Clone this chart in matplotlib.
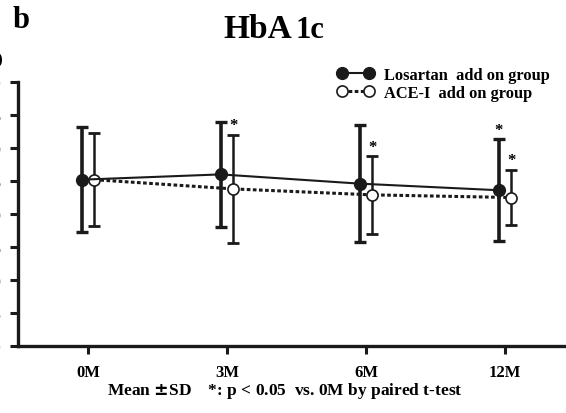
import matplotlib
matplotlib.use("Agg")
import matplotlib.pyplot as plt
from matplotlib.lines import Line2D
import numpy as np

plt.rcParams['font.family'] = ['Liberation Serif', 'DejaVu Serif']
plt.rcParams['font.weight'] = 'bold'

categories = ["0M", "3M", "6M", "12M"]
los_mean = [6.52, 6.60, 6.46, 6.36]
los_sd = [0.80, 0.80, 0.89, 0.77]
ace_mean = [6.52, 6.38, 6.29, 6.25]
ace_sd = [0.70, 0.82, 0.59, 0.42]
los_sig = [False, False, False, True]
ace_sig = [False, True, True, True]
yticks = [4.0, 4.5, 5.0, 5.5, 6.0, 6.5, 7.0, 7.5, 8.0]
ytick_labels = ["4.0", "4.5", "5.0", "5.5", "6.0", "6.5", "7.0", "7.5", "8.0"]

fig = plt.figure(figsize=(5.66, 4.14), dpi=100)
ax = fig.add_axes([18/566, 1-347/414, 1-18/566, (347-83)/414])

x = np.arange(len(categories))
off = 0.045
ink = '#1a1a1a'

ax.errorbar(x - off, los_mean, yerr=los_sd, fmt='none', ecolor=ink,
            elinewidth=2.6, capsize=4.5, capthick=2.4, zorder=2)
ax.errorbar(x + off, ace_mean, yerr=ace_sd, fmt='none', ecolor=ink,
            elinewidth=1.8, capsize=4.3, capthick=2.0, zorder=2)
ax.plot(x - off, los_mean, color=ink, lw=1.5, marker='o', ms=8.5,
        mfc=ink, mec=ink, zorder=4)
ax.plot(x + off, ace_mean, color=ink, lw=2.2, ls=(0, (1.2, 0.8)), marker='o', ms=8,
        mfc='white', mec=ink, mew=1.2, zorder=3)

for i in range(len(categories)):
    if los_sig[i]:
        ax.annotate('*', (x[i] - off, los_mean[i] + los_sd[i]), xytext=(0, 1),
                    textcoords='offset points', ha='center', va='bottom',
                    fontsize=12, fontweight='bold')
    if ace_sig[i]:
        ax.annotate('*', (x[i] + off, ace_mean[i] + ace_sd[i]), xytext=(0, 1),
                    textcoords='offset points', ha='center', va='bottom',
                    fontsize=12, fontweight='bold')

ax.set_xlim(-0.504, 3.44)
ax.set_ylim(4.0, 8.0)
ax.set_xticks(x)
ax.set_xticklabels(categories, fontsize=12, fontweight='bold')
ax.set_yticks(yticks)
ax.set_yticklabels(ytick_labels, fontsize=12, fontweight='bold')
ax.tick_params(axis='both', direction='out', length=6, width=2.2, color=ink)
ax.tick_params(axis='x', pad=7)
ax.tick_params(axis='y', pad=6)
for s in ['top', 'right']:
    ax.spines[s].set_visible(False)
for s in ['left', 'bottom']:
    ax.spines[s].set_linewidth(2.4)
    ax.spines[s].set_color(ink)

h1 = Line2D([], [], color=ink, lw=1.5, marker='o', ms=8.5, mfc=ink, mec=ink)
h2 = Line2D([], [], color=ink, lw=2.2, ls=(0, (1.2, 0.8)), marker='o', ms=8,
            mfc='white', mec=ink, mew=1.2)
leg = fig.legend([h1, h2], ["Losartan  add on group", "ACE-I  add on group"],
                 loc='upper left', bbox_to_anchor=(337/566, 1-68/414), frameon=False,
                 prop={'family': 'Liberation Serif', 'weight': 'bold', 'size': 11.8},
                 numpoints=2, handlelength=2.25, handletextpad=0.6, labelspacing=0.12,
                 borderaxespad=0, borderpad=0)

fig.text(292/566, 1-38/414, "HbA", ha='right', va='baseline', fontsize=24,
         fontweight='bold')
fig.text(295/566, 1-38/414, "1c", ha='left', va='baseline', fontsize=22,
         fontweight='bold')
fig.text(13/566, 1-21/414, "b", ha='left', va='center', fontsize=22, fontweight='bold')
fig.text(3/566, 1-60/414, "(%)", ha='right', va='center', fontsize=12, fontweight='bold')
fig.text(285/566, 1-391/414, "Mean $\\pm$SD    *: p < 0.05  vs. 0M by paired t-test",
         ha='center', va='center', fontsize=12.5, fontweight='bold')

fig.savefig("out.png", dpi=100)
